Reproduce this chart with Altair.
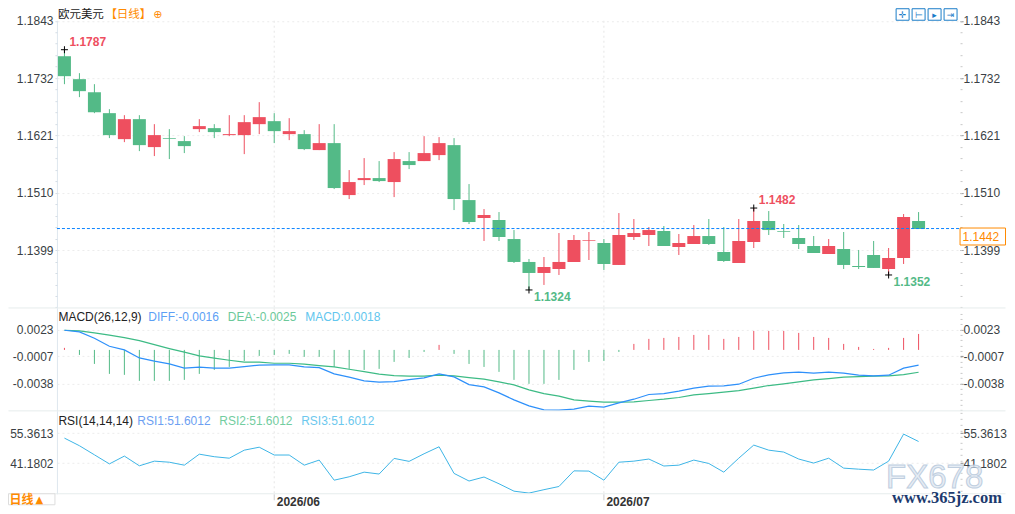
import altair as alt
import numpy as np
import pandas as pd

# ---------- values ----------
open_ = [1.17743,1.17299,1.17047,1.16641,1.16138,1.16525,1.15984,1.16158,1.16100,1.16332,
         1.16351,1.16216,1.16216,1.16428,1.16486,1.16235,1.16235,1.15926,1.16061,1.15055,
         1.15345,1.15384,1.15307,1.15713,1.15713,1.15829,1.16022,1.14958,1.14611,1.14572,
         1.14204,1.13760,1.13547,1.13624,1.13760,1.14172,1.14127,1.13702,1.14243,1.14282,
         1.14359,1.14050,1.14108,1.14262,1.13953,1.13740,1.14146,1.14553,1.14359,1.14224,
         1.14069,1.13914,1.14011,1.13682,1.13895,1.13624,1.13837,1.14553]
close = [1.17357,1.17067,1.16660,1.16216,1.16525,1.16022,1.16216,1.16144,1.16003,1.16390,
         1.16274,1.16235,1.16467,1.16564,1.16293,1.16293,1.15945,1.16061,1.15191,1.15307,
         1.15384,1.15326,1.15752,1.15636,1.15868,1.16061,1.14978,1.14533,1.14669,1.14243,
         1.13760,1.13547,1.13663,1.13760,1.14185,1.14185,1.13721,1.14282,1.14320,1.14378,
         1.14069,1.14127,1.14262,1.14108,1.13779,1.14166,1.14553,1.14378,1.14345,1.14108,
         1.13934,1.14069,1.13702,1.13663,1.13644,1.13837,1.14630,1.14398]
high = [1.17869,1.17415,1.17202,1.16718,1.16602,1.16602,1.16428,1.16332,1.16196,1.16525,
        1.16428,1.16602,1.16602,1.16854,1.16641,1.16544,1.16312,1.16428,1.16428,1.15539,
        1.15771,1.15713,1.15887,1.15887,1.16196,1.16177,1.16158,1.15268,1.14784,1.14726,
        1.14378,1.13818,1.13856,1.14320,1.14282,1.14340,1.14204,1.14707,1.14591,1.14436,
        1.14456,1.14301,1.14475,1.14591,1.14436,1.14591,1.14804,1.14746,1.14495,1.14475,
        1.14262,1.14204,1.14340,1.13992,1.14166,1.14030,1.14688,1.14726]
low = [1.17202,1.16951,1.16641,1.16158,1.16080,1.15906,1.15810,1.15752,1.15868,1.16274,
       1.16158,1.16196,1.15848,1.16235,1.16061,1.16119,1.15926,1.15926,1.15171,1.14978,
       1.15249,1.15307,1.15016,1.15558,1.15713,1.15732,1.14765,1.14495,1.14166,1.14166,
       1.13740,1.13218,1.13315,1.13508,1.13760,1.13798,1.13605,1.13702,1.14185,1.14069,
       1.14069,1.13895,1.14108,1.14088,1.13760,1.13740,1.14030,1.14282,1.14224,1.14011,
       1.13934,1.13914,1.13624,1.13624,1.13644,1.13508,1.13721,1.14398]
macd = [2.3,-5.7,-15.9,-27.2,-28.3,-35.1,-35.1,-35.1,-34.0,-27.2,-22.7,-19.3,-12.5,-6.8,-5.7,
        -4.5,-7.9,-7.9,-19.3,-21.5,-22.7,-21.5,-13.6,-9.1,-2.3,5.7,-4.5,-15.9,-19.3,-24.9,
        -34.0,-38.5,-38.5,-34.0,-22.7,-13.6,-12.5,-2.3,6.8,12.5,13.6,14.7,17.0,17.0,12.5,
        14.7,21.5,21.5,21.5,19.3,14.7,13.6,6.8,3.4,1.1,2.3,13.6,18.1]
diff = [22.3,20.4,13.3,4.2,0.0,-9.1,-12.8,-15.9,-20.7,-19.6,-20.7,-20.7,-18.9,-17.3,-17.0,
        -17.0,-19.3,-20.1,-27.2,-30.9,-35.1,-36.6,-35.9,-33.7,-31.7,-27.2,-30.6,-39.3,-41.9,
        -48.7,-56.7,-63.4,-68.0,-68.3,-67.2,-63.8,-64.9,-60.0,-55.9,-50.6,-49.5,-46.8,-43.4,
        -41.1,-40.8,-38.9,-32.1,-28.3,-26.1,-25.3,-26.4,-25.3,-26.4,-28.7,-29.5,-28.7,-20.7,-17.3]
dea = [22.3,21.5,19.3,16.7,13.9,10.5,6.0,1.5,-2.6,-6.8,-9.4,-11.7,-13.9,-13.9,-15.1,-15.1,
       -16.2,-17.8,-19.3,-21.9,-24.6,-27.5,-29.1,-29.8,-29.8,-28.7,-29.5,-31.4,-33.2,-36.3,
       -39.7,-45.3,-49.5,-52.5,-56.7,-58.1,-59.3,-59.3,-58.9,-57.4,-55.9,-54.0,-51.0,-49.5,
       -47.9,-46.1,-43.4,-40.4,-38.5,-36.3,-34.0,-32.5,-30.9,-30.3,-29.8,-29.5,-28.0,-25.3]
rsi = [53.0,49.4,45.1,40.8,44.5,39.9,42.1,41.6,40.2,45.4,44.2,43.5,47.3,48.7,45.0,45.0,40.2,
       42.6,33.1,34.7,36.9,36.0,43.4,42.0,45.6,48.9,36.3,32.7,34.6,31.4,27.9,27.0,28.6,30.1,
       37.5,37.4,33.1,41.6,42.1,43.1,39.8,40.2,42.6,41.0,36.9,43.5,49.7,47.3,46.4,43.1,41.2,
       43.5,38.8,38.3,37.9,42.1,54.9,51.4]

price_ticks = [1.1843, 1.1732, 1.1621, 1.1510, 1.1399]
macd_ticks = [0.0023, -0.0007, -0.0038]
rsi_ticks = [55.3613, 41.1802]
month_idx = [14, 36]
month_labels = ["2026/06", "2026/07"]
last_price = 1.14407
ext_high_idx, ext_high_val, ext_high_text = [0, 46], [1.17869, 1.14804], ["1.1787", "1.1482"]
ext_low_idx, ext_low_val, ext_low_text = [31, 55], [1.13218, 1.13508], ["1.1324", "1.1352"]

RED, GREEN = "#ee4f5f", "#53ba87"
ORANGE = "#ff8a00"
BLUE = "#2e90fa"
TEXT = "#3a3f45"
FONT = "Liberation Sans"
CJK = "Noto Sans CJK SC"
W, H1, H2, H3 = 904, 288, 103, 83
X_DOM = [-0.5, 59.7667]
LEFT = -48.5
RIGHT = 949.5

n = len(open_)
df = pd.DataFrame({
    "i": np.arange(n), "open": open_, "close": close, "high": high, "low": low,
    "macd": np.array(macd) * 1e-4, "diff": np.array(diff) * 1e-4, "dea": np.array(dea) * 1e-4,
    "rsi": rsi, "zero": 0.0,
})
df["color"] = np.where(df["close"] >= df["open"], RED, GREEN)
df["mcolor"] = np.where(df["macd"] >= 0, RED, GREEN)
one = pd.DataFrame({"a": [0]})

xs = alt.Scale(domain=X_DOM, nice=False, zero=False, padding=0)
X_GRID = dict(grid=True, gridColor="#e6e6e6", gridDash=[2, 3], values=month_idx, labels=False,
              ticks=False, domain=False, title=None)
xenc_grid = alt.X("i:Q", scale=xs, axis=alt.Axis(**X_GRID))
xenc = alt.X("i:Q", scale=xs, axis=None)
LABEL_EXPR = "replace(format(datum.value,'.4f'),'\u2212','-')"


def axis_left(ticks):
    return alt.Axis(orient="left", values=ticks, title=None, grid=True, gridColor="#ececec", gridDash=[2, 3],
                    tickSize=0, labelPadding=4, labelFont=FONT, labelFontSize=12, labelColor=TEXT,
                    domain=True, domainColor="#dfe7ee", labelOverlap=False, labelBound=False, labelFlush=False,
                    labelExpr=LABEL_EXPR)


def axis_right(ticks):
    return alt.Axis(orient="right", values=ticks, title=None, grid=False, tickSize=3, tickColor="#888888",
                    labelPadding=0, labelFont=FONT, labelFontSize=12, labelColor=TEXT, domain=False,
                    labelOverlap=False, labelBound=False, labelFlush=False, labelExpr=LABEL_EXPR)


def axis_minor(ticks, orient, color):
    return alt.Axis(orient=orient, values=ticks, title=None, grid=False, tickSize=2, tickColor=color,
                    labels=False, domain=False)


def label(text, x, y, color, font=FONT, size=12, weight="normal", align="left", opacity=1.0, stroke=None):
    kw = dict(text=text, color=color, font=font, fontSize=size, fontWeight=weight,
              align=align, baseline="middle", opacity=opacity)
    if stroke:
        kw.update(stroke=stroke, strokeWidth=1)
    return alt.Chart(one).mark_text(**kw).encode(x=alt.value(x), y=alt.value(y))


def sep(y):
    return alt.Chart(one).mark_rule(color="#e6ecec", strokeWidth=1).encode(
        x=alt.value(LEFT), x2=alt.value(RIGHT), y=alt.value(y))


def box(x0, x1, y0, y1, stroke, fill="white", sw=1.0, op=1.0):
    return alt.Chart(one).mark_rect(stroke=stroke, fill=fill, strokeWidth=sw, opacity=op).encode(
        x=alt.value(x0), x2=alt.value(x1), y=alt.value(y0), y2=alt.value(y1))


def dummy(field, scale, axis):
    return alt.Chart(df).mark_rule(opacity=0).encode(x=xenc, y=alt.Y(f"{field}:Q", scale=scale, axis=axis))


# ---------- price panel ----------
ps = alt.Scale(domain=[1.128698, 1.184397], nice=False, zero=False, padding=0)
p_minor = list(np.arange(1.1843, 1.1280, -0.00222))
candle_rule = alt.Chart(df).mark_rule(strokeWidth=1).encode(
    x=xenc_grid, y=alt.Y("high:Q", scale=ps, axis=axis_left(price_ticks)), y2="low:Q",
    color=alt.Color("color:N", scale=None))
candle_body = alt.Chart(df).mark_bar(size=13, orient="vertical").encode(
    x=xenc, y=alt.Y("open:Q", scale=ps, axis=axis_right(price_ticks)), y2="close:Q",
    color=alt.Color("color:N", scale=None))
last = alt.Chart(pd.DataFrame({"y": [last_price]})).mark_rule(stroke="#0a84ff", strokeDash=[3, 2], strokeWidth=1).encode(
    x=alt.value(0), x2=alt.value(W), y=alt.Y("y:Q", scale=ps, axis=None))

CROSS = "M-1,0L1,0M0,-1L0,1"
ext = pd.DataFrame({"i": ext_high_idx + ext_low_idx, "v": ext_high_val + ext_low_val})
marks = alt.Chart(ext).mark_point(shape=CROSS, size=49, filled=False, color="black", strokeWidth=1, opacity=1).encode(
    x=xenc, y=alt.Y("v:Q", scale=ps, axis=None))
hi_df = pd.DataFrame({"i": ext_high_idx, "v": ext_high_val, "t": ext_high_text})
lo_df = pd.DataFrame({"i": ext_low_idx, "v": ext_low_val, "t": ext_low_text})
hi_text = alt.Chart(hi_df).mark_text(align="left", baseline="middle", dx=5, dy=-8, color=RED, fontWeight="bold",
                                     font=FONT, fontSize=12).encode(
    x=xenc, y=alt.Y("v:Q", scale=ps, axis=None), text="t:N")
lo_text = alt.Chart(lo_df).mark_text(align="left", baseline="middle", dx=5, dy=7.5, color=GREEN, fontWeight="bold",
                                     font=FONT, fontSize=12).encode(
    x=xenc, y=alt.Y("v:Q", scale=ps, axis=None), text="t:N")

icon_x = [840, 856, 872, 888]
icon_glyph = ["\u271b", "\u22a2", "\u25b8", "\u21e5"]
icons = []
for ix, g in zip(icon_x, icon_glyph):
    icons.append(box(ix, ix + 13, -11.5, 0, "#1a7cc8"))
    icons.append(alt.Chart(one).mark_text(text=g, color="#1a7cc8", font="DejaVu Sans", fontSize=9, align="center",
                                          baseline="middle").encode(x=alt.value(ix + 6.5), y=alt.value(-5.5)))

price_layers = [
    candle_rule, candle_body,
    dummy("high", ps, axis_minor(p_minor, "left", "#d5dde5")),
    dummy("high", ps, axis_minor(p_minor, "right", "#c8c8c8")),
    last, marks, hi_text, lo_text,
    box(904, RIGHT, 208, 225, ORANGE),
    label("1.1442", 906.5, 216.5, ORANGE),
    label("\u6b27\u5143\u7f8e\u5143", 1, -5, "#1a1a1a", font=CJK, size=11.5),
    label("\u3010\u65e5\u7ebf\u3011", 48.5, -5, ORANGE, font=CJK, size=11.5),
    label("\u2295", 96.5, -5, ORANGE, font="DejaVu Sans", size=11),
    sep(288),
    alt.Chart(one).mark_rect(opacity=0).encode(x=alt.value(LEFT), x2=alt.value(RIGHT), y=alt.value(-12), y2=alt.value(-11)),
] + icons
price = alt.layer(*price_layers).resolve_axis(x="independent", y="independent").properties(width=W, height=H1)

# ---------- MACD panel ----------
ms = alt.Scale(domain=[-0.006911, 0.004759], nice=False, zero=False, padding=0)
m_minor = list(np.arange(0.0023 + 0.00061 * 3, -0.0070, -0.00061))
macd_bar = alt.Chart(df).mark_rule(strokeWidth=1).encode(
    x=xenc_grid, y=alt.Y("macd:Q", scale=ms, axis=axis_left(macd_ticks)), y2="zero:Q",
    color=alt.Color("mcolor:N", scale=None))
dea_line = alt.Chart(df).mark_line(color="#3dbb85", strokeWidth=1.2).encode(
    x=xenc, y=alt.Y("dea:Q", scale=ms, axis=axis_right(macd_ticks)))
diff_line = alt.Chart(df).mark_line(color=BLUE, strokeWidth=1.2).encode(
    x=xenc, y=alt.Y("diff:Q", scale=ms, axis=axis_minor(m_minor, "right", "#c8c8c8")))
macd_chart = alt.layer(
    macd_bar, dea_line, diff_line,
    label("MACD(26,12,9)", 1.5, 9.5, "#222222"),
    label("DIFF:-0.0016", 91.5, 9.5, "#5d9ff5"),
    label("DEA:-0.0025", 171, 9.5, "#6cc99a"),
    label("MACD:0.0018", 248.5, 9.5, "#62c6ee"),
    sep(103),
).resolve_axis(x="independent", y="independent").properties(width=W, height=H2)

# ---------- RSI panel ----------
rs = alt.Scale(domain=[26.67, 65.90], nice=False, zero=False, padding=0)
r_minor = list(np.arange(65.0, 26.7, -2.84))
x_bottom = alt.X("i:Q", scale=xs, axis=alt.Axis(
    grid=True, gridColor="#e6e6e6", gridDash=[2, 3], values=month_idx, title=None, domain=False,
    tickSize=6, tickColor="#cccccc", labelAlign="left", labelOffset=2, labelPadding=-3, labelFont=FONT,
    labelFontSize=12, labelFontWeight="bold", labelColor="#333333", labelBaseline="top",
    labelOverlap=False, labelBound=False, labelFlush=False,
    labelExpr=f"datum.value=={month_idx[0]}?'{month_labels[0]}':'{month_labels[1]}'"))
rsi_line = alt.Chart(df).mark_line(color="#3db5e6", strokeWidth=1).encode(
    x=x_bottom, y=alt.Y("rsi:Q", scale=rs, axis=axis_left(rsi_ticks)))
rsi_r = dummy("rsi", rs, axis_right(rsi_ticks))
rsi_m = dummy("rsi", rs, axis_minor(r_minor, "right", "#c8c8c8"))
rsi_chart = alt.layer(
    rsi_line, rsi_r, rsi_m,
    label("RSI(14,14,14)", 1.5, 10.5, "#222222"),
    label("RSI1:51.6012", 80.5, 10.5, "#6d9ff2"),
    label("RSI2:51.6012", 162.5, 10.5, "#72cda0"),
    label("RSI3:51.6012", 244.5, 10.5, "#6cc8ee"),
    sep(83),
    box(LEFT, -2, 83, 94, "#dddddd"),
    label("\u65e5\u7ebf", LEFT + 1, 89, ORANGE, font=CJK, weight="bold"),
    label("\u25b2", LEFT + 27, 89, ORANGE, font="DejaVu Sans", size=10),
    label("FX678", 830, 67.5, "#e2eaf3", size=33, stroke="#b4c6da", opacity=0.85),
    label("www.365jz.com", 836, 87, "#1c3a6e", font="Liberation Serif", size=16.5, weight="bold"),
).resolve_axis(x="independent", y="independent").properties(width=W, height=H3)

chart = alt.vconcat(price, macd_chart, rsi_chart, spacing=0, bounds="flush").properties(
    padding=0, background="white"
).configure_view(stroke=None)

chart.save("out.html", embed_options={"renderer": "svg", "actions": False})
